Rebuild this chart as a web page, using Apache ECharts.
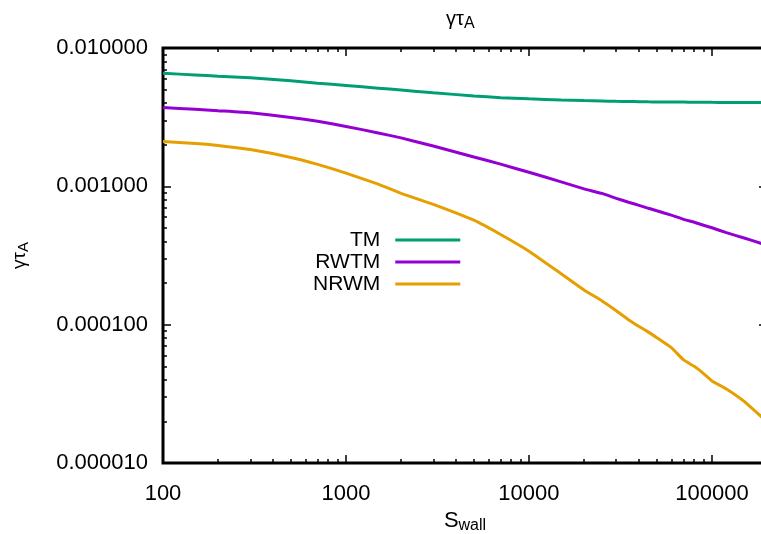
<!DOCTYPE html>
<html>
<head>
<meta charset="utf-8">
<script src="https://cdn.jsdelivr.net/npm/echarts@6/dist/echarts.min.js"></script>
<style>
  html, body { margin: 0; padding: 0; background: #fff; }
  #main { width: 761px; height: 534px; }
</style>
</head>
<body>
<div id="main"></div>
<script>
// S_wall values (x)
var sWall = [100, 150, 200, 300, 500, 700, 1000, 1500, 2000, 3000, 5000, 7000, 10000, 15000, 20000,
	25000, 30000, 35000, 40000, 45000, 50000, 60000, 70000, 80000, 90000, 100000, 120000, 150000, 190000];
// gamma*tau_A for each model
var tm = [0.006568, 0.006383, 0.006257, 0.006092, 0.005787, 0.005569, 0.005361, 0.005126, 0.004966, 0.004748,
	0.004500, 0.004375, 0.004290, 0.004211, 0.004170, 0.004142, 0.004115, 0.004102, 0.004095, 0.004082,
	0.004075, 0.004068, 0.004062, 0.004055, 0.004052, 0.004048, 0.004042, 0.004035, 0.004028];
var rwtm = [0.003707, 0.003609, 0.003520, 0.003400, 0.003149, 0.002951, 0.002711, 0.002433, 0.002239, 0.001957,
	0.001630, 0.001446, 0.001264, 0.001078, 0.0009594, 0.0008885, 0.0008191, 0.0007676, 0.0007290, 0.0006937,
	0.0006654, 0.0006195, 0.0005776, 0.0005497, 0.0005229, 0.0005017, 0.0004624, 0.0004233, 0.0003832];
var nrwm = [0.002113, 0.002044, 0.001977, 0.001843, 0.001617, 0.001441, 0.001247, 0.001037, 0.0008902, 0.0007413,
	0.0005690, 0.0004487, 0.0003399, 0.0002335, 0.0001780, 0.0001490, 0.0001262, 0.0001087, 0.0000970, 0.0000883,
	0.0000805, 0.0000682, 0.0000556, 0.0000500, 0.0000443, 0.0000392, 0.0000343, 0.0000279, 0.0000211];

var seriesNames = ['TM', 'RWTM', 'NRWM'];
var seriesColors = ['#009e73', '#9400d3', '#e69f00'];

// tick labels
var xTicks = [100, 1000, 10000, 100000];
var yTicks = [0.00001, 0.0001, 0.001, 0.01];
var xMin = 100, xMax = 200000;
var yMin = 0.00001, yMax = 0.01;

var FONT = 'Liberation Sans';

function isTick(v, list) {
	for (var i = 0; i < list.length; i++) {
		if (Math.abs(v / list[i] - 1) < 1e-6) return true;
	}
	return false;
}

// log axis, gnuplot style: ticks inside, minor ticks 2..9
function logAxis(pos, showLabel) {
	var isX = (pos == 'bottom' || pos == 'top');
	return {
		type: 'log',
		logBase: 10,
		position: pos,
		min: isX ? xMin : yMin,
		max: isX ? xMax : yMax,
		axisLine: { show: false, onZero: false },
		splitLine: { show: false },
		minorSplitLine: { show: false },
		axisTick: { show: true, inside: true, length: 8, lineStyle: { color: '#000', width: 1.5 } },
		minorTick: { show: true, splitNumber: 9, length: 4, lineStyle: { color: '#000', width: 1.5 } },
		axisLabel: {
			show: showLabel,
			margin: isX ? 20 : 15,
			color: '#000',
			fontFamily: FONT,
			fontSize: 22,
			showMaxLabel: isX ? false : true,
			formatter: function (v) {
				if (isX) return isTick(v, xTicks) ? String(Math.round(v)) : '';
				return isTick(v, yTicks) ? v.toFixed(6) : '';
			}
		}
	};
}

var xMain = logAxis('bottom', true);
xMain.name = '{s|S}{sub|wall}';
xMain.nameLocation = 'middle';
xMain.nameGap = 42;
xMain.nameTextStyle = {
	color: '#000',
	rich: {
		s: { fontFamily: FONT, fontSize: 22, color: '#000' },
		sub: { fontFamily: FONT, fontSize: 16, color: '#000', padding: [10, 0, 0, 0] }
	}
};

var yMain = logAxis('left', true);
yMain.name = '{g|γτ}{sub|A}';
yMain.nameLocation = 'middle';
yMain.nameGap = 132;
yMain.nameTextStyle = {
	color: '#000',
	rich: {
		g: { fontFamily: FONT, fontSize: 19, color: '#000' },
		sub: { fontFamily: FONT, fontSize: 15, color: '#000', padding: [8, 0, 0, 0] }
	}
};

var series = [];
var dataSets = [tm, rwtm, nrwm];
for (var s = 0; s < dataSets.length; s++) {
	var pts = [];
	for (var i = 0; i < sWall.length; i++) pts.push([sWall[i], dataSets[s][i]]);
	series.push({
		name: seriesNames[s],
		type: 'line',
		xAxisIndex: 0,
		yAxisIndex: 0,
		data: pts,
		showSymbol: false,
		symbol: 'none',
		smooth: 0.12,
		clip: true,
		color: seriesColors[s],
		lineStyle: { width: 3, color: seriesColors[s] }
	});
}

var chart = echarts.init(document.getElementById('main'), null, { renderer: 'canvas' });
var option = {
	animation: false,
	backgroundColor: '#fff',
	title: {
		text: '{g|γτ}{sub|A}',
		left: 441,
		top: 2,
		textStyle: {
			fontWeight: 'normal',
			rich: {
				g: { fontFamily: FONT, fontSize: 20, fontWeight: 'normal', color: '#000' },
				sub: { fontFamily: FONT, fontSize: 16, fontWeight: 'normal', color: '#000', padding: [9, 0, 0, 0] }
			}
		}
	},
	grid: {
		left: 163,
		top: 48,
		right: -6,
		bottom: 71,
		outerBoundsMode: 'none',
		show: true,
		borderColor: '#000',
		borderWidth: 3,
		backgroundColor: 'transparent'
	},
	legend: {
		orient: 'vertical',
		align: 'right',
		left: 308,
		top: 224,
		itemGap: 0,
		itemWidth: 65,
		itemHeight: 3,
		icon: 'rect',
		selectedMode: false,
		data: seriesNames,
		textStyle: {
			fontFamily: FONT,
			fontSize: 21,
			color: '#000',
			lineHeight: 22,
			padding: [0, 10, 0, 0]
		}
	},
	xAxis: [xMain, logAxis('top', false)],
	yAxis: [yMain, logAxis('right', false)],
	series: series
};
chart.setOption(option);
</script>
</body>
</html>
